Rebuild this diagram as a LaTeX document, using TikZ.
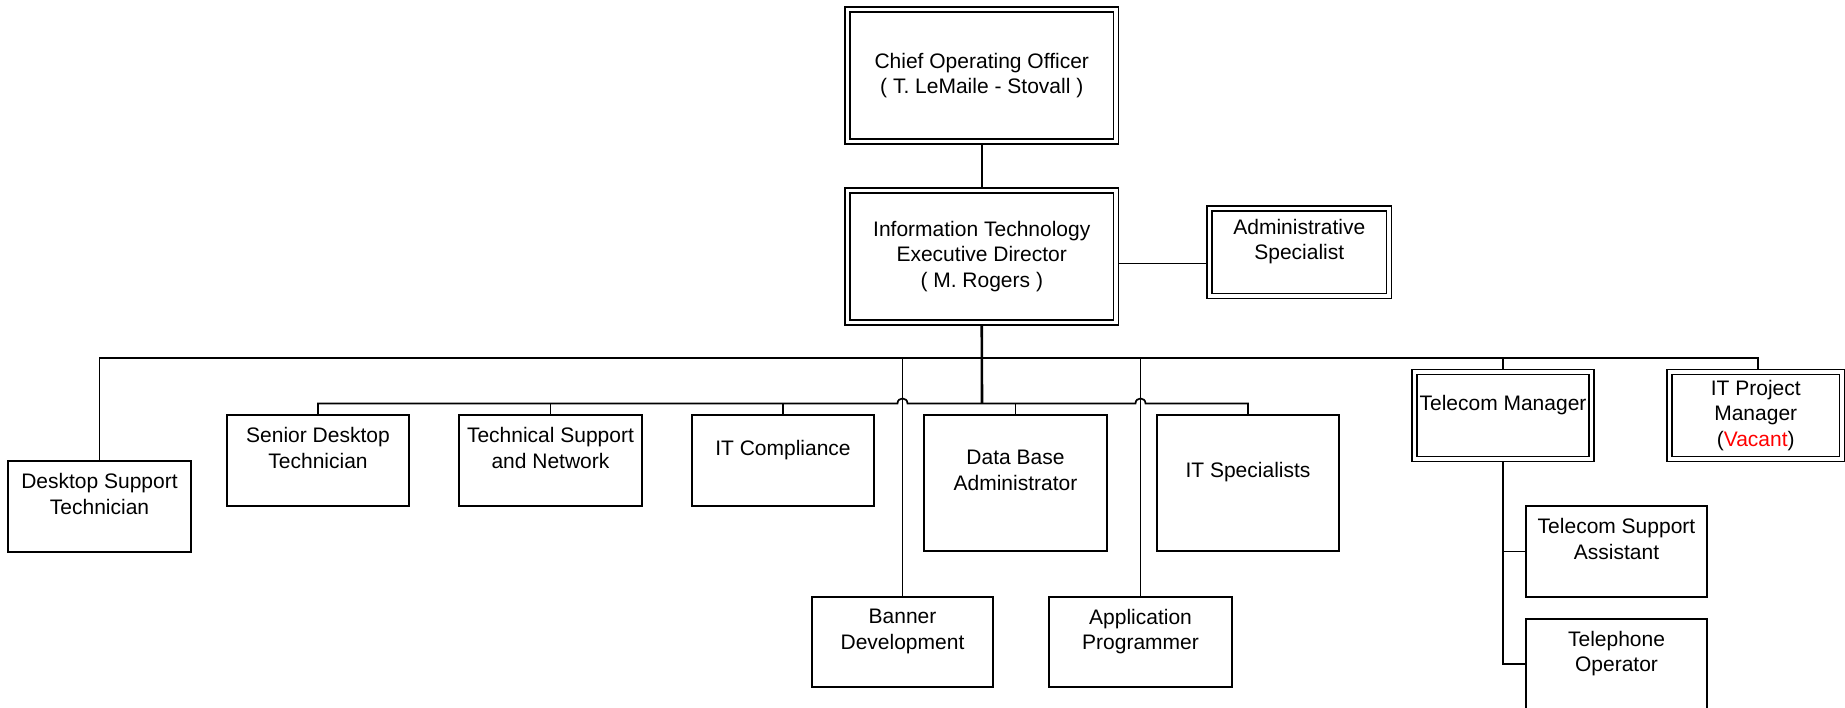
\documentclass[tikz,border=0pt]{standalone}
\usepackage{fontspec}
\setmainfont{Liberation Sans}
\usetikzlibrary{calc}
\begin{document}
\tikzset{
  sbox/.style={draw, rectangle, line width=1.7pt, inner sep=0pt, outer sep=0pt,
    align=center, font=\fontsize{21}{25.5}\selectfont},
  dbox/.style={sbox, line width=1.4pt, double, double distance=3.6pt, outer sep=2.5pt},
  conn/.style={line width=1.7pt},
  trunk/.style={line width=2.6pt}
}
\begin{tikzpicture}[x=1pt,y=-1pt]
\useasboundingbox (0,0) rectangle (1845,708);
\clip (0,0) rectangle (1845,708);
% double-bordered boxes
\node[dbox, minimum width=268.5pt, minimum height=132pt] (coo) at (981.75,75.5)
  {Chief Operating Officer\\( T. LeMaile - Stovall )};
\node[dbox, minimum width=268.5pt, minimum height=132pt] (ited) at (981.75,256.5)
  {Information Technology\\Executive Director\\( M. Rogers )};
\node[dbox, minimum width=179.5pt, minimum height=87.5pt] (admin) at (1299.25,252.25)
  {Administrative\\Specialist\\\mbox{}};
\node[dbox, minimum width=177pt, minimum height=87pt] (tm) at (1503,415.5)
  {Telecom Manager\\\mbox{}};
\node[dbox, minimum width=172.5pt, minimum height=87pt] (itp) at (1755.75,415.5)
  {IT Project\\Manager\\(\textcolor{red}{Vacant})};
% single boxes
\node[sbox, minimum width=183pt, minimum height=91pt] (dst) at (99.5,506.5)
  {Desktop Support\\Technician\\\mbox{}};
\node[sbox, minimum width=182pt, minimum height=91pt] (sdt) at (318,460.5)
  {Senior Desktop\\Technician\\\mbox{}};
\node[sbox, minimum width=183pt, minimum height=91pt] (tsn) at (550.5,460.5)
  {Technical Support\\and Network\\\mbox{}};
\node[sbox, minimum width=182pt, minimum height=91pt] (itc) at (783,460.5)
  {IT Compliance\\\mbox{}};
\node[sbox, minimum width=183pt, minimum height=136pt] (dba) at (1015.5,483)
  {Data Base\\Administrator\\\mbox{}};
\node[sbox, minimum width=182pt, minimum height=136pt] (its) at (1248,483)
  {IT Specialists\\\mbox{}};
\node[sbox, minimum width=181pt, minimum height=90pt] (bd) at (902.5,642)
  {Banner\\Development\\\mbox{}};
\node[sbox, minimum width=183pt, minimum height=90pt] (ap) at (1140.5,642)
  {Application\\Programmer\\\mbox{}};
\node[sbox, minimum width=181pt, minimum height=91pt] (tsa) at (1616.5,551.5)
  {Telecom Support\\Assistant\\\mbox{}};
\node[sbox, minimum width=181pt, minimum height=90pt] (to) at (1616.5,664)
  {Telephone\\Operator\\\mbox{}};
% bus points
\coordinate (b1) at (982,358);
\coordinate (b2) at (982,403.5);
% connectors
\draw[conn] (coo.south) -- (ited.north);
\draw[conn] ([yshift=-7pt]ited.east) -- ([yshift=-7pt]ited.east -| admin.west);
\draw[trunk] (ited.south) -- (b2);
\draw[conn] (dst.north) |- (b1) -| ([xshift=2.25pt]itp.north);
\draw[conn] (bd.north) -- (bd.north |- b1);
\draw[conn] (ap.north) -- (ap.north |- b1);
\draw[conn] (tm.north) -- (tm.north |- b1);
\draw[conn] (sdt.north) |- ($(bd.north |- b2)+(-5,0)$)
  .. controls +(0,-6.7) and +(0,-6.7) .. ($(bd.north |- b2)+(5,0)$)
  -- ($(ap.north |- b2)+(-5,0)$)
  .. controls +(0,-6.7) and +(0,-6.7) .. ($(ap.north |- b2)+(5,0)$)
  -| (its.north);
\foreach \n in {tsn,itc,dba} \draw[conn] (\n.north) -- (\n.north |- b2);
\draw[conn] (tm.south) |- (tsa.west);
\draw[conn] (tm.south) |- (to.west);
\end{tikzpicture}
\end{document}
